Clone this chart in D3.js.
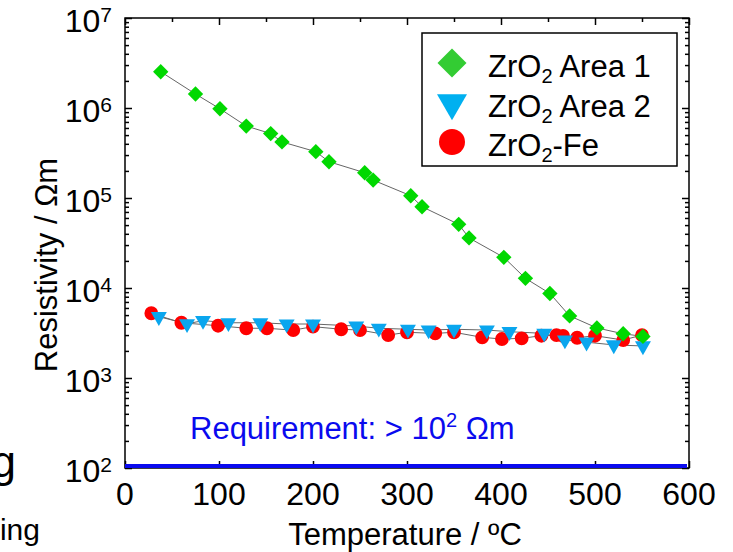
<!DOCTYPE html>
<html>
<head>
<meta charset="utf-8">
<script src="https://cdn.jsdelivr.net/npm/d3@7"></script>
<style>
body { margin: 0; background: #fff; }
svg { display: block; font-family: "Liberation Sans", Arial, sans-serif; }
</style>
</head>
<body>
<svg id="chart"></svg>
<script>
var width = 733, height = 552;
var margin = { top: 18, right: 44, bottom: 84, left: 125 };

// data (temperature in ºC, resistivity in Ωm)
var area1Temp = [38, 75, 101, 129, 155, 167, 203, 217, 255, 264, 304, 316, 355, 366, 403, 426, 452, 473, 502, 530, 551];
var area1Res  = [2.53e6, 1.43e6, 9.8e5, 6.3e5, 5.2e5, 4.2e5, 3.27e5, 2.53e5, 1.91e5, 1.58e5, 1.06e5, 8.0e4, 5.1e4, 3.6e4, 2.19e4, 1.28e4, 8.7e3, 4.9e3, 3.6e3, 3.1e3, 2.9e3];

var area2Temp = [36, 66, 83, 110, 144, 172, 200, 246, 270, 301, 323, 350, 385, 409, 446, 468, 491, 520, 551];
var area2Res  = [4.8e3, 4.0e3, 4.34e3, 4.11e3, 4.11e3, 3.98e3, 3.98e3, 3.78e3, 3.57e3, 3.48e3, 3.41e3, 3.48e3, 3.41e3, 3.27e3, 3.13e3, 2.64e3, 2.5e3, 2.33e3, 2.27e3];

var feTemp = [28, 60, 99, 129, 151, 179, 200, 230, 250, 280, 300, 330, 350, 380, 401, 422, 443, 459, 466, 481, 500, 530, 550];
var feRes  = [5.24e3, 4.11e3, 3.81e3, 3.57e3, 3.57e3, 3.4e3, 3.72e3, 3.48e3, 3.41e3, 3.0e3, 3.22e3, 3.13e3, 3.22e3, 2.83e3, 2.71e3, 2.76e3, 2.95e3, 3.0e3, 2.93e3, 2.8e3, 2.95e3, 2.64e3, 3.0e3];

var xTicks = [0, 100, 200, 300, 400, 500, 600];
var xMinor = [50, 150, 250, 350, 450, 550];
var yDecades = [2, 3, 4, 5, 6, 7];
var requirement = 1e2;

var legendNames = ["Area 1", "Area 2", "-Fe"];

var svg = d3.select("#chart").attr("width", width).attr("height", height);

var x = d3.scaleLinear().domain([0, 600]).range([margin.left, width - margin.right]);
var y = d3.scaleLog().domain([1e2, 1e7]).range([height - margin.bottom, margin.top]);

var yMinor = [];
yDecades.slice(0, -1).forEach(function(p) {
  for (var k = 2; k <= 9; k++) yMinor.push(k * Math.pow(10, p));
});
var yMajor = yDecades.map(function(p) { return Math.pow(10, p); });

function styleAxis(g) {
  g.select(".domain").remove();
  g.selectAll("line").attr("stroke", "#000").attr("stroke-width", 1.5);
}

// ticks pointing inside on all four sides
svg.append("g").attr("transform", "translate(0," + y(1e2) + ")")
  .call(d3.axisBottom(x).tickValues(xTicks).tickSize(-7).tickFormat("")).call(styleAxis);
svg.append("g").attr("transform", "translate(0," + y(1e2) + ")")
  .call(d3.axisBottom(x).tickValues(xMinor).tickSize(-4).tickFormat("")).call(styleAxis);
svg.append("g").attr("transform", "translate(0," + y(1e7) + ")")
  .call(d3.axisTop(x).tickValues(xTicks).tickSize(-7).tickFormat("")).call(styleAxis);
svg.append("g").attr("transform", "translate(0," + y(1e7) + ")")
  .call(d3.axisTop(x).tickValues(xMinor).tickSize(-4).tickFormat("")).call(styleAxis);
svg.append("g").attr("transform", "translate(" + x(0) + ",0)")
  .call(d3.axisLeft(y).tickValues(yMajor).tickSize(-7).tickFormat("")).call(styleAxis);
svg.append("g").attr("transform", "translate(" + x(0) + ",0)")
  .call(d3.axisLeft(y).tickValues(yMinor).tickSize(-4).tickFormat("")).call(styleAxis);
svg.append("g").attr("transform", "translate(" + x(600) + ",0)")
  .call(d3.axisRight(y).tickValues(yMajor).tickSize(-7).tickFormat("")).call(styleAxis);
svg.append("g").attr("transform", "translate(" + x(600) + ",0)")
  .call(d3.axisRight(y).tickValues(yMinor).tickSize(-4).tickFormat("")).call(styleAxis);

// frame
svg.append("rect")
  .attr("x", x(0)).attr("y", y(1e7))
  .attr("width", x(600) - x(0)).attr("height", y(1e2) - y(1e7))
  .attr("fill", "none").attr("stroke", "#000").attr("stroke-width", 1.5);

// x tick labels
svg.selectAll(".xlab").data(xTicks).enter().append("text")
  .attr("class", "xlab")
  .attr("x", function(d) { return x(d); })
  .attr("y", y(1e2) + 37)
  .attr("text-anchor", "middle")
  .attr("font-size", 32)
  .text(function(d) { return d; });

// y tick labels 10^n
var ylab = svg.selectAll(".ylab").data(yDecades).enter().append("text")
  .attr("class", "ylab")
  .attr("x", x(0) - 13)
  .attr("y", function(d) { return y(Math.pow(10, d)) + 14; })
  .attr("text-anchor", "end")
  .attr("font-size", 32);
ylab.append("tspan").text("10");
ylab.append("tspan").attr("font-size", 21).attr("dy", -10).text(function(d) { return d; });

// axis titles
svg.append("text")
  .attr("x", (x(0) + x(600)) / 2 - 2)
  .attr("y", 545)
  .attr("text-anchor", "middle")
  .attr("font-size", 31)
  .text("Temperature / ºC");

svg.append("text")
  .attr("transform", "translate(57,265) rotate(-90)")
  .attr("text-anchor", "middle")
  .attr("font-size", 31)
  .text("Resistivity / Ωm");

// requirement line + label
svg.append("line")
  .attr("x1", x(0)).attr("x2", x(600) - 2)
  .attr("y1", y(requirement) - 2).attr("y2", y(requirement) - 2)
  .attr("stroke", "#0a0aee").attr("stroke-width", 4);

var req = svg.append("text")
  .attr("x", 190).attr("y", 439)
  .attr("font-size", 31)
  .attr("fill", "#0a0aee");
req.append("tspan").text("Requirement: > 10");
req.append("tspan").attr("font-size", 20).attr("dy", -12).text("2");
req.append("tspan").attr("dy", 12).text(" Ωm");

// series
var series = [
  { temp: area1Temp, res: area1Res, shape: d3.symbolSquare, turn: 45, color: "#00d800", size: 118, legendSize: 420, legendColor: "#33cc33" },
  { temp: area2Temp, res: area2Res, shape: d3.symbolTriangle, turn: 180, color: "#0aa6ee", size: 110, legendSize: 390, legendColor: "#00b0f0" },
  { temp: feTemp, res: feRes, shape: d3.symbolCircle, turn: 0, color: "#ff0000", size: 150, legendSize: 530, legendColor: "#ff0000" }
];

var line = d3.line().x(function(d) { return x(d[0]); }).y(function(d) { return y(d[1]); });

series.forEach(function(s) {
  var pts = d3.zip(s.temp, s.res);
  svg.append("path")
    .attr("d", line(pts))
    .attr("fill", "none")
    .attr("stroke", "#666")
    .attr("stroke-width", 1);
});

// draw Fe first, then area 2, then area 1 on top
[2, 1, 0].forEach(function(i) {
  var s = series[i];
  var pts = d3.zip(s.temp, s.res);
  svg.selectAll(".pt" + i).data(pts).enter().append("path")
    .attr("class", "pt" + i)
    .attr("d", d3.symbol().type(s.shape).size(s.size))
    .attr("transform", function(d) {
      return "translate(" + x(d[0]) + "," + y(d[1]) + ") rotate(" + s.turn + ")";
    })
    .attr("fill", s.color);
});

// legend
var legend = svg.append("g");
legend.append("rect")
  .attr("x", 422).attr("y", 33).attr("width", 255).attr("height", 133)
  .attr("fill", "#fff").attr("stroke", "#000").attr("stroke-width", 1.5);

var rowY = [63, 103, 142];
series.forEach(function(s, i) {
  legend.append("path")
    .attr("d", d3.symbol().type(s.shape).size(s.legendSize))
    .attr("transform", "translate(452," + rowY[i] + ") rotate(" + s.turn + ")")
    .attr("fill", s.legendColor);
  var t = legend.append("text")
    .attr("x", 488).attr("y", rowY[i] + 14)
    .attr("font-size", 31);
  t.append("tspan").text("ZrO");
  t.append("tspan").attr("font-size", 20).attr("dy", 6).text("2");
  t.append("tspan").attr("dy", -6).text((i < 2 ? " " : "") + legendNames[i]);
});

// fragments of neighbouring slide text, clipped at the left edge
svg.append("text").attr("x", 16).attr("y", 477).attr("text-anchor", "end")
  .attr("font-size", 44).text("g");
svg.append("text").attr("x", 40).attr("y", 540).attr("text-anchor", "end")
  .attr("font-size", 30).text("ing");
</script>
</body>
</html>
